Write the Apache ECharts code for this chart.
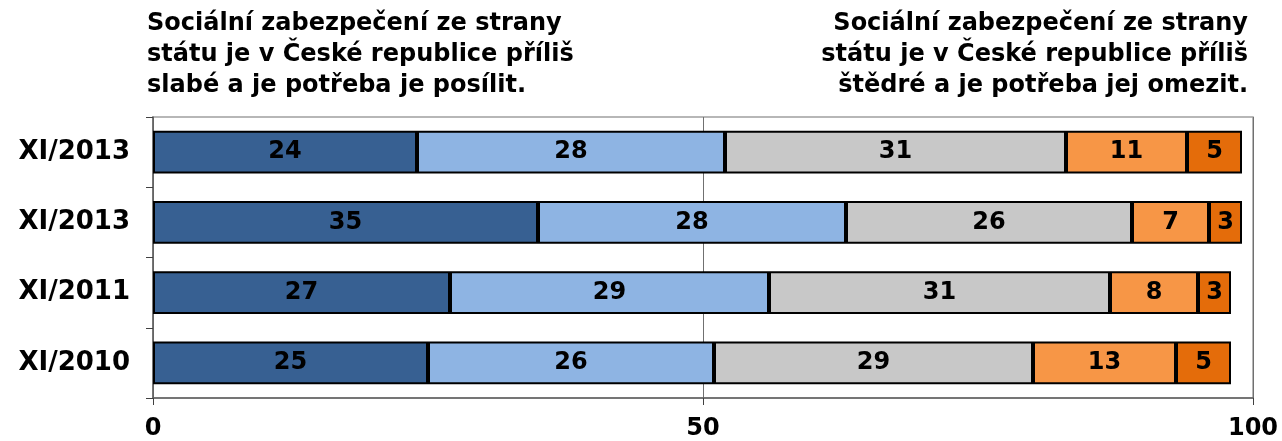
<!DOCTYPE html>
<html><head><meta charset="utf-8">
<script src="https://cdn.jsdelivr.net/npm/echarts@6/dist/echarts.min.js"></script>
<style>html,body{margin:0;padding:0;background:#fff}#c{width:1282px;height:441px}</style>
</head><body><div id="c"></div>
<script>
const categories = ['XI/2013', 'XI/2013', 'XI/2011', 'XI/2010'];
const s1 = [24, 35, 27, 25];
const s2 = [28, 28, 29, 26];
const s3 = [31, 26, 31, 29];
const s4 = [11, 7, 8, 13];
const s5 = [5, 3, 3, 5];
const xTicks = [0, 50, 100];
const titleLeft = 'Sociální zabezpečení ze strany\nstátu je v České republice příliš\nslabé a je potřeba je posílit.';
const titleRight = 'Sociální zabezpečení ze strany\nstátu je v České republice příliš\nštědré a je potřeba jej omezit.';

const colors = ['#376092', '#8EB4E3', '#C8C8C8', '#F79646', '#E46C0A'];
const font = 'DejaVu Sans, Verdana, sans-serif';
const chart = echarts.init(document.getElementById('c'));
const mk = (name, data, i) => ({
  name, type: 'bar', stack: 'a', data, barWidth: '61%',
  itemStyle: { color: colors[i], borderColor: '#000', borderWidth: 2 },
  label: { show: true, position: 'inside', color: '#000', fontFamily: font, fontWeight: 'bold', fontSize: 24 }
});
const tStyle = { fontFamily: font, fontWeight: 'bold', fontSize: 24, lineHeight: 31, fill: '#000' };
chart.setOption({
  animation: false,
  graphic: [
    { type: 'text', left: 147, top: 8, style: Object.assign({ text: titleLeft, textAlign: 'left' }, tStyle) },
    { type: 'text', right: 34, top: 8, style: Object.assign({ text: titleRight, textAlign: 'right' }, tStyle) }
  ],
  grid: { left: 153, right: 29, top: 117, bottom: 42, show: true, borderColor: '#A0A0A0', borderWidth: 1.5 },
  xAxis: {
    type: 'value', min: 0, max: 100, interval: 50,
    axisLine: { show: true, lineStyle: { color: '#606060', width: 1.5 } },
    axisTick: { show: true, length: 7, lineStyle: { color: '#404040' } },
    splitLine: { show: true, lineStyle: { color: '#707070', width: 1 } },
    axisLabel: { color: '#000', fontFamily: font, fontWeight: 'bold', fontSize: 24, margin: 19,
      formatter: v => xTicks.includes(v) ? String(v) : '' }
  },
  yAxis: {
    type: 'category', data: categories, inverse: true,
    axisLine: { show: true, lineStyle: { color: '#606060', width: 1.5 } },
    axisTick: { show: true, length: 7, lineStyle: { color: '#404040' } },
    axisLabel: { color: '#000', fontFamily: font, fontWeight: 'bold', fontSize: 26, margin: 23 }
  },
  series: [mk('a', s1, 0), mk('b', s2, 1), mk('c', s3, 2), mk('d', s4, 3), mk('e', s5, 4)]
});
</script></body></html>
